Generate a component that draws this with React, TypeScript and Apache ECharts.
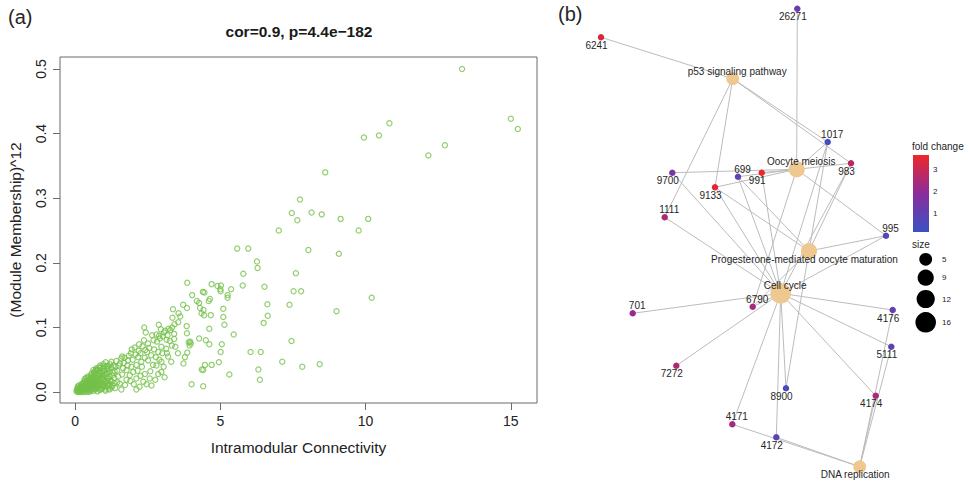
import React, { useEffect, useRef } from "react";
import * as echarts from "echarts";

// ---------- panel (a): scatter ----------
const xTicks = [0, 5, 10, 15];
const yTicks = [0, 0.1, 0.2, 0.3, 0.4, 0.5];

const outlierPoints: [number, number][] = [
  [13.32, 0.5], [15.0, 0.423], [15.24, 0.407], [10.82, 0.416], [10.46, 0.397], [9.94, 0.394],
  [12.73, 0.382], [12.16, 0.366], [8.61, 0.34], [7.74, 0.298], [7.46, 0.277], [8.14, 0.278],
  [8.49, 0.275], [7.65, 0.266], [9.14, 0.268], [10.09, 0.268], [7.01, 0.25], [9.76, 0.25],
  [5.58, 0.222], [5.96, 0.222], [8.03, 0.22], [9.08, 0.214], [6.26, 0.202], [6.28, 0.192],
  [5.79, 0.183], [7.6, 0.184], [5.77, 0.165], [6.52, 0.163], [7.52, 0.156], [7.78, 0.156],
  [10.21, 0.146], [6.62, 0.136], [7.38, 0.135], [9.0, 0.125], [6.63, 0.118], [6.49, 0.107],
  [5.46, 0.089], [7.45, 0.079], [6.04, 0.062], [6.39, 0.062], [7.13, 0.047], [7.82, 0.039],
  [8.42, 0.043], [6.31, 0.035], [6.36, 0.019], [5.31, 0.027],
];

const midPoints: [number, number][] = [
  [3.86, 0.169], [4.7, 0.167], [4.9, 0.164], [5.02, 0.165], [5.0, 0.159], [5.01, 0.156],
  [5.37, 0.159], [4.03, 0.15], [4.4, 0.155], [4.45, 0.154], [4.19, 0.141], [4.27, 0.138],
  [4.64, 0.144], [4.6, 0.141], [5.25, 0.15], [5.25, 0.146], [4.3, 0.13], [4.35, 0.122],
  [4.42, 0.127], [4.44, 0.119], [4.67, 0.119], [5.1, 0.129], [5.1, 0.116], [5.14, 0.104],
  [4.62, 0.098], [4.27, 0.083], [4.5, 0.08], [3.96, 0.078], [3.98, 0.075], [4.62, 0.074],
  [5.05, 0.074], [5.01, 0.062], [3.86, 0.061], [3.78, 0.054], [3.73, 0.044], [4.47, 0.042],
  [4.7, 0.042], [4.36, 0.035], [4.41, 0.034], [4.95, 0.046], [4.01, 0.012], [4.41, 0.009],
  [3.37, 0.128], [3.35, 0.115], [3.42, 0.105], [3.55, 0.108], [3.56, 0.122], [3.62, 0.117],
  [3.72, 0.135], [3.85, 0.13], [3.84, 0.102], [3.85, 0.091], [3.91, 0.077], [3.94, 0.072],
];

const bandPoints: [number, number][] = [
  [2.38, 0.1], [2.43, 0.092], [2.88, 0.104], [2.95, 0.097], [2.8, 0.089], [2.89, 0.087],
  [3.06, 0.092], [3.28, 0.096], [3.34, 0.1], [3.41, 0.09], [3.15, 0.081], [3.26, 0.079],
  [3.41, 0.082], [3.33, 0.072], [2.37, 0.08], [2.51, 0.075], [2.42, 0.065], [2.82, 0.078],
  [2.97, 0.07], [2.86, 0.062], [3.14, 0.067], [3.16, 0.06], [3.45, 0.07], [2.05, 0.069],
  [2.19, 0.064], [1.92, 0.06], [1.59, 0.052], [1.82, 0.049], [2.17, 0.054], [2.28, 0.047],
  [2.11, 0.042], [1.25, 0.047], [1.39, 0.039], [1.54, 0.044], [1.65, 0.037], [1.77, 0.034],
  [1.94, 0.039], [2.51, 0.049], [2.68, 0.042], [2.8, 0.041], [2.97, 0.047], [2.59, 0.032],
  [2.86, 0.028], [2.76, 0.019], [2.57, 0.021], [2.97, 0.031], [3.08, 0.023], [2.11, 0.021],
  [2.22, 0.008], [2.11, 0.004], [2.46, 0.012], [2.63, 0.01], [1.48, 0.024], [1.54, 0.013],
  [1.59, 0.004], [1.19, 0.004], [1.25, 0.016], [1.77, 0.019], [1.88, 0.026], [2.0, 0.031],
  [3.2, 0.055], [3.31, 0.047], [3.54, 0.06],
  [1.3, 0.03], [1.35, 0.022], [1.42, 0.048], [1.45, 0.033], [1.5, 0.041], [1.62, 0.027],
  [1.68, 0.045], [1.72, 0.011], [1.8, 0.041], [1.85, 0.056], [1.9, 0.017], [1.98, 0.05],
  [2.02, 0.012], [2.08, 0.058], [2.15, 0.033], [2.25, 0.06], [2.32, 0.071], [2.2, 0.074],
  [2.3, 0.039], [2.4, 0.053], [2.48, 0.062], [2.55, 0.068], [2.62, 0.057], [2.7, 0.08],
  [2.72, 0.066], [2.65, 0.088], [2.78, 0.054], [2.92, 0.083], [3.02, 0.086], [3.1, 0.095],
  [3.18, 0.088], [3.22, 0.098], [3.0, 0.06], [3.05, 0.039], [2.9, 0.05], [1.28, 0.01],
  [1.38, 0.006], [1.45, 0.015], [1.62, 0.055], [1.7, 0.053], [1.95, 0.066], [2.25, 0.025],
  [2.35, 0.016], [2.4, 0.028],
];

const corePoints: [number, number][] = [
  [0.05, 0.001], [0.08, 0.002], [0.1, 0.0], [0.12, 0.004], [0.15, 0.001], [0.18, 0.003],
  [0.2, 0.006], [0.22, 0.002], [0.25, 0.0], [0.27, 0.005], [0.3, 0.008], [0.3, 0.002],
  [0.1, 0.006], [0.2, 0.009], [0.15, 0.007], [0.28, 0.011], [0.33, 0.004], [0.35, 0.0],
  [0.36, 0.01], [0.38, 0.006], [0.4, 0.013], [0.42, 0.002], [0.44, 0.008], [0.45, 0.016],
  [0.47, 0.004], [0.5, 0.011], [0.5, 0.019], [0.52, 0.001], [0.53, 0.007], [0.55, 0.014],
  [0.56, 0.021], [0.58, 0.004], [0.6, 0.01], [0.6, 0.017], [0.4, 0.018], [0.48, 0.022],
  [0.62, 0.024], [0.63, 0.002], [0.65, 0.007], [0.66, 0.013], [0.68, 0.019], [0.7, 0.027],
  [0.7, 0.004], [0.72, 0.01], [0.74, 0.016], [0.75, 0.022], [0.77, 0.001], [0.78, 0.029],
  [0.8, 0.007], [0.8, 0.013], [0.82, 0.02], [0.84, 0.025], [0.85, 0.032], [0.86, 0.003],
  [0.88, 0.01], [0.9, 0.016], [0.9, 0.023], [0.92, 0.03], [0.93, 0.005], [0.95, 0.012],
  [0.96, 0.037], [0.98, 0.019], [1.0, 0.026], [1.0, 0.008], [1.02, 0.033], [1.04, 0.015],
  [1.05, 0.002], [1.07, 0.022], [1.08, 0.04], [1.1, 0.029], [1.1, 0.01], [1.12, 0.017],
  [1.15, 0.036], [1.15, 0.005], [1.18, 0.024], [1.2, 0.043], [1.2, 0.012], [0.35, 0.015],
  [0.45, 0.0], [0.55, 0.026], [0.65, 0.03], [0.72, 0.034], [0.58, 0.012], [0.68, 0.009],
  [0.78, 0.015], [0.88, 0.038], [0.42, 0.011], [0.62, 0.016], [0.76, 0.034], [0.25, 0.013],
  [0.32, 0.017], [0.53, 0.024], [0.67, 0.031], [0.83, 0.038], [0.97, 0.043], [1.05, 0.046],
  [0.12, 0.01], [0.38, 0.022], [0.92, 0.02], [1.13, 0.04], [0.7, 0.033],
  [0.06, 0.004], [0.09, 0.008], [0.13, 0.002], [0.17, 0.005], [0.19, 0.0], [0.23, 0.008],
  [0.26, 0.003], [0.29, 0.014], [0.31, 0.006], [0.34, 0.012], [0.37, 0.003], [0.39, 0.009],
  [0.41, 0.015], [0.43, 0.005], [0.46, 0.012], [0.49, 0.007], [0.51, 0.016], [0.54, 0.003],
  [0.57, 0.009], [0.59, 0.022], [0.61, 0.005], [0.64, 0.011], [0.67, 0.017], [0.69, 0.023],
  [0.71, 0.013], [0.73, 0.006], [0.76, 0.019], [0.79, 0.025], [0.81, 0.01], [0.83, 0.004],
  [0.85, 0.017], [0.87, 0.028], [0.89, 0.006], [0.91, 0.012], [0.94, 0.026], [0.97, 0.009],
  [0.99, 0.032], [1.01, 0.017], [1.03, 0.004], [1.06, 0.028], [1.09, 0.013], [1.11, 0.035],
  [1.14, 0.021], [1.16, 0.009], [1.19, 0.031], [1.22, 0.018], [1.24, 0.038], [1.26, 0.007],
  [1.28, 0.026], [1.32, 0.041], [1.34, 0.014], [1.36, 0.032], [0.22, 0.012], [0.33, 0.02],
  [0.44, 0.024], [0.57, 0.029], [0.63, 0.034], [0.74, 0.037], [0.86, 0.041], [0.99, 0.04],
];

// ---------- panel (b): network ----------
const hubNames = [
  "p53 signaling pathway",
  "Oocyte meiosis",
  "Progesterone-mediated oocyte maturation",
  "Cell cycle",
  "DNA replication",
];
const hubSizes = [5, 9, 9, 16, 5];
const hubLayout: [number, number][] = [
  [732.7, 78.7], [796.7, 169.3], [809, 251], [780.7, 293.3], [859.7, 466.7],
];
const hubLabelSide = ["up", "up", "down", "up", "down"];

const geneNames = [
  "26271", "6241", "1017", "983", "9700", "699", "991", "9133", "1111", "995",
  "6790", "701", "4176", "5111", "7272", "8900", "4174", "4171", "4172",
];
const geneFold = [
  1.2, 3.3, 0.45, 2.7, 1.6, 1.0, 3.6, 3.5, 2.5, 0.7,
  2.4, 2.1, 1.0, 1.0, 2.5, 0.5, 2.4, 2.3, 0.9,
];
const geneLayout: [number, number][] = [
  [797.3, 8.7], [601, 37.3], [827.7, 142], [851, 163.3], [672.3, 172.7], [738, 176.7],
  [761.7, 172.7], [715, 187.3], [664.7, 217.3], [886, 235.7], [752.7, 306.7], [632.7, 313.3],
  [892.7, 310], [891.3, 346.7], [676.3, 365.7], [786, 388.3], [875.7, 395.7], [732.3, 424.3],
  [776.3, 437.3],
];
const geneLabelSide = [
  "down", "down", "up", "down", "down", "up", "down", "down", "up", "up",
  "up", "up", "down", "down", "down", "down", "down", "up", "down",
];

const edges: [string, string][] = [
  ["6241", "p53 signaling pathway"],
  ["1111", "p53 signaling pathway"],
  ["9133", "p53 signaling pathway"],
  ["1017", "p53 signaling pathway"],
  ["983", "p53 signaling pathway"],
  ["26271", "Oocyte meiosis"],
  ["1017", "Oocyte meiosis"],
  ["983", "Oocyte meiosis"],
  ["9700", "Oocyte meiosis"],
  ["699", "Oocyte meiosis"],
  ["991", "Oocyte meiosis"],
  ["9133", "Oocyte meiosis"],
  ["995", "Oocyte meiosis"],
  ["6790", "Oocyte meiosis"],
  ["1017", "Progesterone-mediated oocyte maturation"],
  ["983", "Progesterone-mediated oocyte maturation"],
  ["699", "Progesterone-mediated oocyte maturation"],
  ["9133", "Progesterone-mediated oocyte maturation"],
  ["995", "Progesterone-mediated oocyte maturation"],
  ["8900", "Progesterone-mediated oocyte maturation"],
  ["6790", "Progesterone-mediated oocyte maturation"],
  ["9700", "Cell cycle"],
  ["699", "Cell cycle"],
  ["991", "Cell cycle"],
  ["9133", "Cell cycle"],
  ["1111", "Cell cycle"],
  ["1017", "Cell cycle"],
  ["983", "Cell cycle"],
  ["995", "Cell cycle"],
  ["6790", "Cell cycle"],
  ["701", "Cell cycle"],
  ["7272", "Cell cycle"],
  ["4176", "Cell cycle"],
  ["5111", "Cell cycle"],
  ["4174", "Cell cycle"],
  ["8900", "Cell cycle"],
  ["4171", "Cell cycle"],
  ["4172", "Cell cycle"],
  ["4176", "DNA replication"],
  ["5111", "DNA replication"],
  ["4174", "DNA replication"],
  ["4171", "DNA replication"],
  ["4172", "DNA replication"],
];

const foldTicks = [1, 2, 3];
const foldRange = [0.16, 3.65];
const foldColors = ["#3a52c2", "#8a2c9d", "#ef2629"];
const sizeLegendValues = [5, 9, 12, 16];

// ---------- helpers ----------
const FONT = "Liberation Sans";
const sizeToDiameter = (s: number) => 3 + 4.4 * Math.sqrt(s);
const foldColor = (v: number) =>
  echarts.color.lerp((v - foldRange[0]) / (foldRange[1] - foldRange[0]), foldColors);
const labelFor = (side: string) => ({
  show: true,
  position: "inside",
  offset: side === "up" ? [4.5, -7.5] : [-4.5, 8],
  fontSize: 10,
  color: "#262626",
  fontFamily: FONT,
});

function buildOption() {
  const scatterData = [...outlierPoints, ...midPoints, ...bandPoints, ...corePoints];

  const nodes = [
    ...hubNames.map((n, i) => ({
      name: n,
      value: hubLayout[i],
      symbolSize: sizeToDiameter(hubSizes[i]),
      itemStyle: { color: "#efc88f" },
      label: labelFor(hubLabelSide[i]),
      z: 3,
    })),
    ...geneNames.map((n, i) => ({
      name: n,
      value: geneLayout[i],
      symbolSize: 6.5,
      itemStyle: { color: foldColor(geneFold[i]) },
      label: labelFor(geneLabelSide[i]),
    })),
  ];

  // legend geometry
  const barX = 913, barY = 155, barW = 16, barH = 77;
  const foldY = (v: number) => barY + ((foldRange[1] - v) / (foldRange[1] - foldRange[0])) * barH;
  const sizeKeyY = [259.3, 277.7, 299, 322.3];

  const txt = (text: string, x: number, y: number, size: number, align = "left", weight = "normal", color = "#262626") => ({
    type: "text",
    silent: true,
    style: {
      text, x, y, fill: color, fontSize: size, fontFamily: FONT, fontWeight: weight,
      textAlign: align, align, textVerticalAlign: "middle", verticalAlign: "middle",
    },
  });

  const graphic: any[] = [
    txt("(a)", 8, 17, 20),
    txt("(b)", 558, 14, 20),
    txt("cor=0.9, p=4.4e\u2212182", 299, 31, 15.5, "center", "bold", "#1a1a1a"),
    txt("fold change", 912, 146, 10),
    {
      type: "rect",
      silent: true,
      shape: { x: barX, y: barY, width: barW, height: barH },
      style: {
        fill: new echarts.graphic.LinearGradient(0, 0, 0, 1, [
          { offset: 0, color: foldColors[2] },
          { offset: 0.5, color: foldColors[1] },
          { offset: 1, color: foldColors[0] },
        ]),
      },
    },
    ...foldTicks.map((v) => txt(String(v), 933, foldY(v), 8)),
    txt("size", 912, 244, 10),
    ...sizeLegendValues.map((v, i) => ({
      type: "circle",
      silent: true,
      shape: { cx: 925.7, cy: sizeKeyY[i], r: sizeToDiameter(v) / 2 },
      style: { fill: "#000" },
    })),
    ...sizeLegendValues.map((v, i) => txt(String(v), 942, sizeKeyY[i], 8)),
  ];

  return {
    animation: false,
    backgroundColor: "#ffffff",
    textStyle: { fontFamily: FONT },
    grid: [
      { left: 60, top: 57, width: 477, height: 346, show: true, borderColor: "#6b6b6b", borderWidth: 1, backgroundColor: "transparent" },
      { left: 0, top: 0, width: 971, height: 484, show: false },
    ],
    xAxis: [
      {
        gridIndex: 0,
        type: "value",
        min: -0.52,
        max: 15.9,
        axisLine: { show: false, onZero: false },
        axisTick: { show: true, length: 7, customValues: xTicks, lineStyle: { color: "#6b6b6b" } },
        axisLabel: { customValues: xTicks, margin: 11, fontSize: 14, color: "#222", fontFamily: FONT },
        splitLine: { show: false },
        name: "Intramodular Connectivity",
        nameLocation: "middle",
        nameGap: 36,
        nameTextStyle: { fontSize: 15.5, color: "#222", fontFamily: FONT },
      },
      { gridIndex: 1, type: "value", min: 0, max: 971, show: false },
    ],
    yAxis: [
      {
        gridIndex: 0,
        type: "value",
        min: -0.017,
        max: 0.5186,
        axisLine: { show: false, onZero: false },
        axisTick: { show: true, length: 7, customValues: yTicks, lineStyle: { color: "#6b6b6b" } },
        axisLabel: {
          customValues: yTicks,
          rotate: 90,
          margin: 12,
          fontSize: 14,
          color: "#222",
          fontFamily: FONT,
          formatter: (v: number) => v.toFixed(1),
        },
        splitLine: { show: false },
        name: "(Module Membership)^12",
        nameLocation: "middle",
        nameGap: 37,
        nameTextStyle: { fontSize: 15.5, color: "#222", fontFamily: FONT },
      },
      { gridIndex: 1, type: "value", min: 0, max: 484, inverse: true, show: false },
    ],
    series: [
      {
        type: "scatter",
        xAxisIndex: 0,
        yAxisIndex: 0,
        symbol: "circle",
        symbolSize: 5.2,
        itemStyle: { color: "rgba(0,0,0,0)", borderColor: "#74c04a", borderWidth: 1.2 },
        emphasis: { disabled: true },
        silent: true,
        data: scatterData,
      },
      {
        type: "graph",
        layout: "none",
        coordinateSystem: "cartesian2d",
        xAxisIndex: 1,
        yAxisIndex: 1,
        symbol: "circle",
        silent: true,
        emphasis: { disabled: true },
        lineStyle: { color: "#bcbcbc", width: 1, opacity: 1, curveness: 0 },
        data: nodes,
        links: edges.map(([s, t]) => ({ source: s, target: t })),
      },
    ],
    graphic,
  };
}

export default function App() {
  const ref = useRef<HTMLDivElement>(null);
  useEffect(() => {
    if (!ref.current) return;
    const chart = echarts.init(ref.current, undefined, { renderer: "svg" });
    chart.setOption(buildOption() as any);
    return () => chart.dispose();
  }, []);
  return (
    <div
      ref={ref}
      style={{ position: "fixed", left: 0, top: 0, width: 971, height: 484, background: "#fff" }}
    />
  );
}
